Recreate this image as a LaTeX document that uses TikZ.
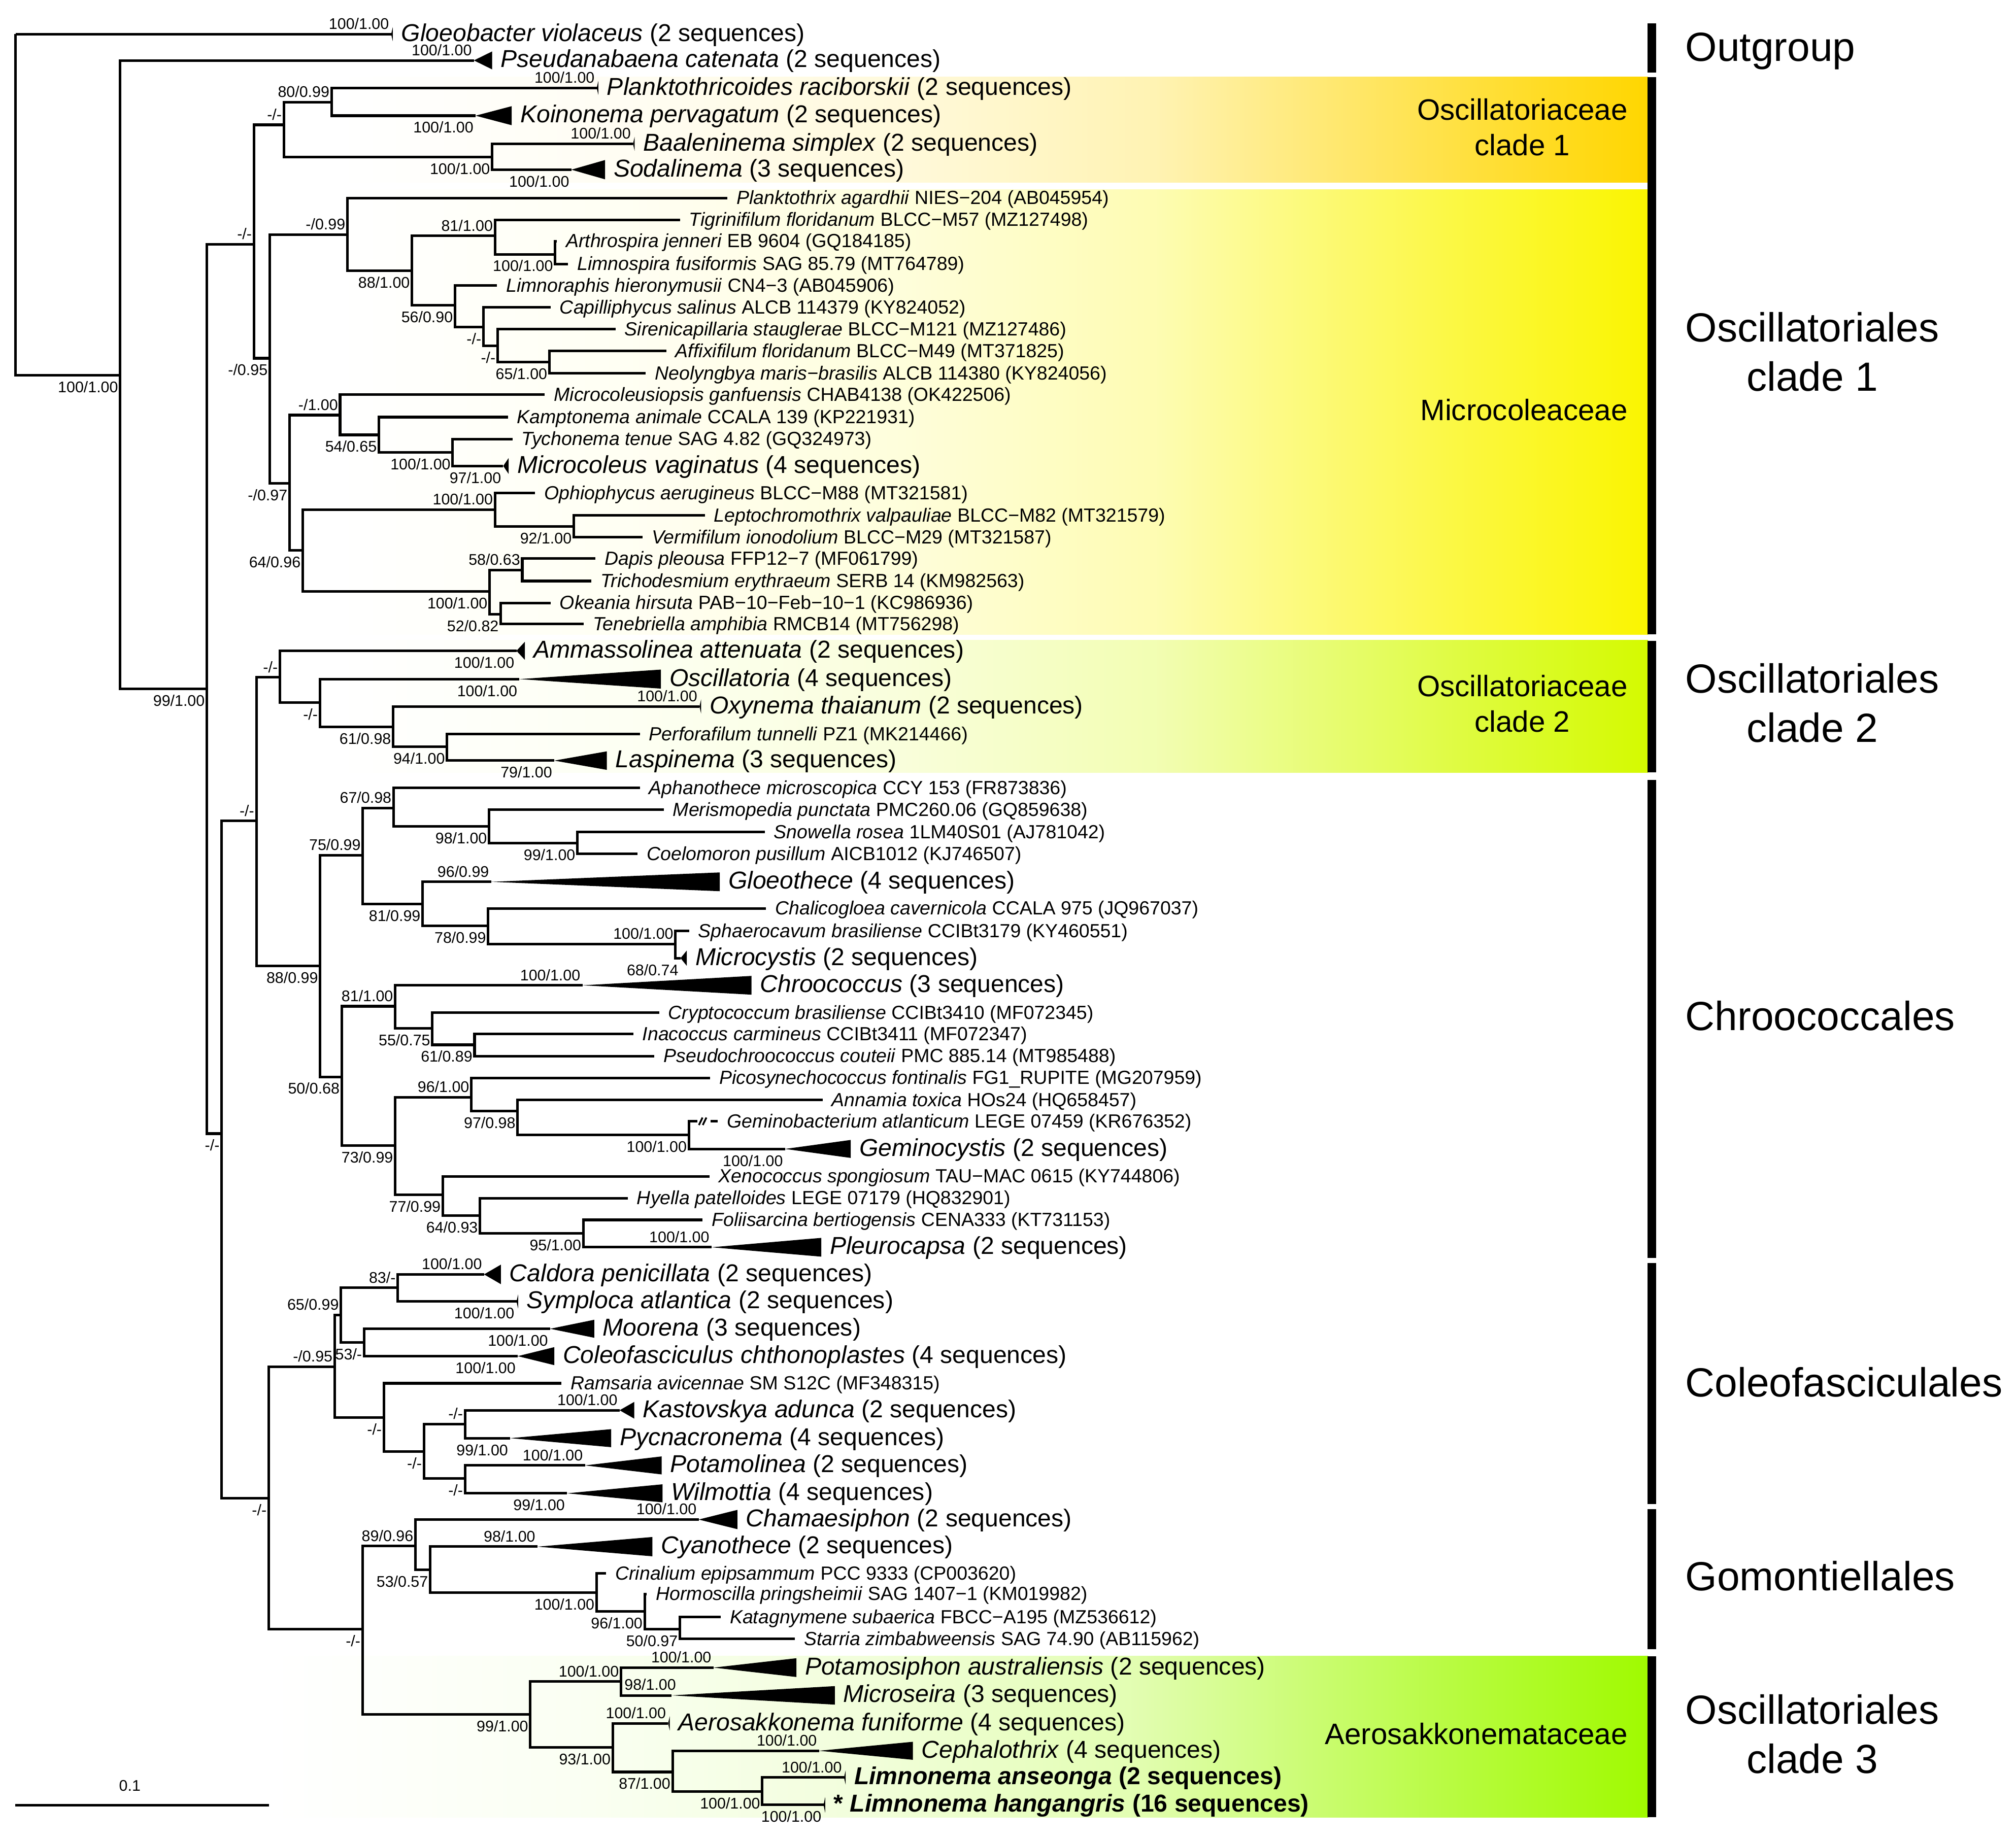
\documentclass[tikz,border=0pt]{standalone}
\usepackage{fontspec}
\setmainfont{Liberation Sans}
\definecolor{ocgold}{RGB}{255,214,0}
\definecolor{mcyellow}{RGB}{250,245,0}
\definecolor{oclime}{RGB}{212,250,0}
\definecolor{aegreen}{RGB}{160,250,0}
\pgfdeclarehorizontalshading{shgold}{100bp}{color(0bp)=(white); color(25bp)=(white); color(36.5bp)=(ocgold!5!white); color(46.5bp)=(ocgold!14!white); color(56.25bp)=(ocgold!30!white); color(68.5bp)=(ocgold!77!white); color(75bp)=(ocgold); color(100bp)=(ocgold)}
\pgfdeclarehorizontalshading{shyellow}{100bp}{color(0bp)=(white); color(25bp)=(white); color(36.5bp)=(mcyellow!5!white); color(46.5bp)=(mcyellow!14!white); color(56.25bp)=(mcyellow!30!white); color(68.5bp)=(mcyellow!77!white); color(75bp)=(mcyellow); color(100bp)=(mcyellow)}
\pgfdeclarehorizontalshading{shlime}{100bp}{color(0bp)=(white); color(25bp)=(white); color(36.5bp)=(oclime!5!white); color(46.5bp)=(oclime!14!white); color(56.25bp)=(oclime!30!white); color(68.5bp)=(oclime!77!white); color(75bp)=(oclime); color(100bp)=(oclime)}
\pgfdeclarehorizontalshading{shgreen}{100bp}{color(0bp)=(white); color(25bp)=(white); color(36.5bp)=(aegreen!5!white); color(46.5bp)=(aegreen!14!white); color(56.25bp)=(aegreen!30!white); color(68.5bp)=(aegreen!77!white); color(75bp)=(aegreen); color(100bp)=(aegreen)}
\begin{document}
\begin{tikzpicture}[x=1pt,y=-1pt,
  br/.style={line width=2pt},
  lbig/.style={anchor=base west,inner sep=0pt,yshift=-5.5pt,font=\fontsize{19}{21}\selectfont},
  lsm/.style={anchor=base west,inner sep=0pt,yshift=-5pt,font=\fontsize{14.8}{17}\selectfont},
  sup/.style={inner sep=0pt,font=\fontsize{12}{14}\selectfont},
  supa/.style={sup,anchor=south east,xshift=-1.5pt,yshift=3.5pt},
  supb/.style={sup,anchor=north east,xshift=-1.5pt,yshift=-4.5pt},
  fam/.style={inner sep=0pt,align=center,font=\fontsize{23}{27.8}\selectfont},
  ord/.style={inner sep=0pt,align=center,font=\fontsize{31.7}{38.3}\selectfont}]
\useasboundingbox (0,0) rectangle (1568,1432);
%Family boxes
  \shade[shading=shgold] (262,59.9) rectangle (1281.8,141.9);
  \shade[shading=shyellow] (262,147.4) rectangle (1281.8,493.5);
  \shade[shading=shlime] (262,498.1) rectangle (1281.8,601.1);
  \shade[shading=shgreen] (210,1288.3) rectangle (1281.8,1413.7);
%Order bars
\foreach \ya/\yb in {18.1/56.5, 60.2/493.5, 498.7/601, 606.9/978.5, 982.5/1170, 1174/1283.1, 1288.3/1413.7} {
        \fill (1281.5,\ya) rectangle (1288.1,\yb);
    }
%Internal nodes
  \coordinate (root) at (12.1,26.6);
  \coordinate (nB) at (93.5,292);
  \coordinate (nC) at (160.9,536);
  \coordinate (nD) at (197.5,189.9);
  \coordinate (nP1) at (220.8,97.1);
  \coordinate (nP2) at (257.9,79.5);
  \coordinate (nP3) at (382.8,122.1);
  \coordinate (nF) at (209.8,278.7);
  \coordinate (nG) at (270.2,182.4);
  \coordinate (nH) at (320.4,210.7);
  \coordinate (nI) at (385,183.5);
  \coordinate (nJ) at (431.8,197.8);
  \coordinate (nK) at (353.9,237.5);
  \coordinate (nL) at (376,254.4);
  \coordinate (nM) at (387.1,269);
  \coordinate (nN) at (427.3,281.6);
  \coordinate (nO) at (225.2,376.1);
  \coordinate (nPn) at (264.5,322.9);
  \coordinate (nQ) at (294.7,338.3);
  \coordinate (nR) at (352.1,351.9);
  \coordinate (nS) at (235.5,428.2);
  \coordinate (nT) at (385,396.5);
  \coordinate (nU) at (446.3,409.4);
  \coordinate (nV) at (380.8,460);
  \coordinate (nW) at (406.2,443.4);
  \coordinate (nX) at (389.5,478);
  \coordinate (nE) at (172.4,881.9);
  \coordinate (nZ) at (199.4,638.7);
  \coordinate (nAA) at (217.7,526.9);
  \coordinate (nAB) at (248.8,546.6);
  \coordinate (nAC) at (305.8,565.6);
  \coordinate (nAD) at (347.7,580.9);
  \coordinate (nAE) at (249,751.4);
  \coordinate (nAF) at (282.2,665.4);
  \coordinate (nAG) at (306.1,628.6);
  \coordinate (nAH) at (380.4,642.7);
  \coordinate (nAI) at (449.1,655.8);
  \coordinate (nAJ) at (328.7,703.1);
  \coordinate (nAK) at (379.7,720.2);
  \coordinate (nAL) at (525.4,734.3);
  \coordinate (nAM) at (265.8,837.7);
  \coordinate (nAN) at (307.4,782.8);
  \coordinate (nAO) at (336.3,800);
  \coordinate (nAP) at (369.1,812.8);
  \coordinate (nAQ) at (307.4,891.2);
  \coordinate (nAR) at (366.6,853.6);
  \coordinate (nAS) at (402.6,864.2);
  \coordinate (nAT) at (535.8,883);
  \coordinate (nAU) at (344.4,929.4);
  \coordinate (nAV) at (373.3,945.7);
  \coordinate (nAW) at (453.7,959.6);
  \coordinate (nAX) at (209,1165.4);
  \coordinate (nAY) at (260.3,1063.1);
  \coordinate (nAZ) at (265.2,1022.9);
  \coordinate (nBA) at (309.4,1001.8);
  \coordinate (nBB) at (283.2,1044.2);
  \coordinate (nBC) at (298.6,1102.8);
  \coordinate (nBD) at (329.7,1129.2);
  \coordinate (nBE) at (361.7,1107.9);
  \coordinate (nBF) at (361.7,1150.3);
  \coordinate (nBG) at (282,1267.3);
  \coordinate (nBH) at (323.1,1202.8);
  \coordinate (nBI) at (334.6,1221.1);
  \coordinate (nBJ) at (464,1239);
  \coordinate (nBK) at (501.4,1253.5);
  \coordinate (nBL) at (528.8,1267.3);
  \coordinate (nBM) at (412.5,1333.7);
  \coordinate (nBN) at (483,1308.1);
  \coordinate (nBO) at (476.6,1359.4);
  \coordinate (nBP) at (523.1,1378.5);
  \coordinate (nBQ) at (592.9,1393.6);
%Tips
\foreach \t/\x/\y in {t01/304.2/26.6, t02/368.6/47, t03/464.1/68.4, t04/369.9/90, t05/492.3/111.9, t06/444.4/132,
    t07/565.7/154, t08/528.8/171, t09/433/187.6, t10/441.8/205.3, t11/386.5/222, t12/428.2/239, t13/478.7/256,
    t14/518.2/273, t15/502.2/290.5, t16/423.7/307, t17/395/324.5, t18/398.6/341.5, t19/391.4/362.5, t20/416.1/383.6,
    t21/548.2/401, t22/499.8/418, t23/463/434.6, t24/460/452, t25/428.2/469, t26/453.9/485.4,
    t27/401.7/506.3, t28/404/528.3, t29/544/549.6, t30/497.6/571.2, t31/431.1/591.7,
    t32/497.6/612.9, t33/516.2/630, t34/594.8/647.3, t35/496/664.2, t36/382/686, t37/595.8/706.7, t38/535.9/724.3,
    t39/529.3/745.4, t40/453/766.5, t41/512.6/787.7, t42/492.5/804.4, t43/509/821.6, t44/552.4/838.5, t45/639.8/855.7,
    gb1/542.2/872.3, gb2/552.7/872.3, t46/558.3/872.3, t47/610.6/893.8, t48/551.7/915.1, t49/488.2/932.1, t50/546.4/949, t51/553.4/970.3,
    t52/376.5/991.4, t53/401.7/1012.5, t54/427.9/1033.7, t55/402.7/1055, t56/436.7/1076.1, t57/481.9/1097.1,
    t58/396.8/1118.8, t59/455/1140, t60/441/1161.7,
    t61/543.4/1182.1, t62/418/1203.2, t63/471.4/1224, t64/503/1240, t65/560.5/1258, t66/618.3/1275,
    t67/554.9/1297.3, t68/522.4/1318.9, t69/519.6/1340.7, t70/637/1362, t71/656.4/1382.8, t72/640.5/1404.1} {
        \coordinate (\t) at (\x,\y);
    }
%Branches
\foreach \p/\c in {root/t01, root/nB, nB/t02, nB/nC, nC/nD, nC/nE, nD/nP1, nD/nF,
    nP1/nP2, nP1/nP3, nP2/t03, nP2/t04, nP3/t05, nP3/t06,
    nF/nG, nF/nO, nG/t07, nG/nH, nH/nI, nH/nK, nI/t08, nI/nJ, nJ/t09, nJ/t10,
    nK/t11, nK/nL, nL/t12, nL/nM, nM/t13, nM/nN, nN/t14, nN/t15,
    nO/nPn, nO/nS, nPn/t16, nPn/nQ, nQ/t17, nQ/nR, nR/t18, nR/t19,
    nS/nT, nS/nV, nT/t20, nT/nU, nU/t21, nU/t22, nV/nW, nV/nX, nW/t23, nW/t24, nX/t25, nX/t26,
    nE/nZ, nE/nAX, nZ/nAA, nZ/nAE, nAA/t27, nAA/nAB, nAB/t28, nAB/nAC, nAC/t29, nAC/nAD, nAD/t30, nAD/t31,
    nAE/nAF, nAE/nAM, nAF/nAG, nAF/nAJ, nAG/t32, nAG/nAH, nAH/t33, nAH/nAI, nAI/t34, nAI/t35,
    nAJ/t36, nAJ/nAK, nAK/t37, nAK/nAL, nAL/t38, nAL/t39,
    nAM/nAN, nAM/nAQ, nAN/t40, nAN/nAO, nAO/t41, nAO/nAP, nAP/t42, nAP/t43,
    nAQ/nAR, nAQ/nAU, nAR/t44, nAR/nAS, nAS/t45, nAS/nAT, nAT/gb1, nAT/t47,
    nAU/t48, nAU/nAV, nAV/t49, nAV/nAW, nAW/t50, nAW/t51,
    nAX/nAY, nAX/nBG, nAY/nAZ, nAY/nBC, nAZ/nBA, nAZ/nBB, nBA/t52, nBA/t53, nBB/t54, nBB/t55,
    nBC/t56, nBC/nBD, nBD/nBE, nBD/nBF, nBE/t57, nBE/t58, nBF/t59, nBF/t60,
    nBG/nBH, nBG/nBM, nBH/t61, nBH/nBI, nBI/t62, nBI/nBJ, nBJ/t63, nBJ/nBK, nBK/t64, nBK/nBL, nBL/t65, nBL/t66,
    nBM/nBN, nBM/nBO, nBN/t67, nBN/t68, nBO/t69, nBO/nBP, nBP/t70, nBP/nBQ, nBQ/t71, nBQ/t72} {
        \draw[br] (\p) |- (\c);
    }
  %broken branch
  \draw[br] (gb2) -- (t46);
  \draw[line width=1.4pt] (543.6,875.2) -- (546.4,869.4);
  \draw[line width=1.4pt] (546.6,875.2) -- (549.4,869.4);
%Collapsed clades
\foreach \t/\w/\h in {t01/1.3/5.5, t02/14.2/7, t03/1.3/5.5, t04/28.1/7.4, t05/1.3/5.5, t06/26.2/7.5,
    t19/4.2/6.2, t27/6.5/7, t28/110/7.4, t29/1.3/5.5, t31/40.9/7.2, t36/177.8/7.3, t39/4.9/6,
    t40/131.5/7.3, t47/51.1/7, t51/85.4/7.3, t52/13.1/7.6, t53/1.3/5.5, t54/34.3/7, t55/28.4/7,
    t57/11.4/6.5, t58/78.5/7, t59/59.6/7, t60/74.3/7, t61/30.1/7.5, t62/89.4/7.5,
    t67/64.5/7.3, t68/126.9/7.2, t69/1.3/5.5, t70/73/7, t71/1.3/5.5, t72/1.3/6} {
        \fill (\t) -- ++(\w,-\h) -- ++(0,2*\h) -- cycle;
        \coordinate (e\t) at ([xshift=\w pt]\t);
    }
%Support values
\foreach \c/\a/\b in {t01/100/1.00, t02/100/1.00, t03/100/1.00, nP2/80/0.99, nP1/-/-, t05/100/1.00, nD/-/-,
    nG/-/0.99, nI/81/1.00, nPn/-/1.00, nT/100/1.00, nW/58/0.63, nAA/-/-, nZ/-/-, t29/100/1.00,
    nAF/75/0.99, nAG/67/0.98, t36/96/0.99, nAL/100/1.00, nAN/81/1.00, t40/100/1.00, nAR/96/1.00, t51/100/1.00,
    nAY/-/0.95, nAZ/65/0.99, nBA/83/-, t52/100/1.00, nBE/-/-, t57/100/1.00, t59/100/1.00,
    nBH/89/0.96, t61/100/1.00, t62/98/1.00, nBN/100/1.00, t67/100/1.00, t69/100/1.00, t70/100/1.00, t71/100/1.00} {
        \node[supa] (sa\c) at (\c) {\a/\b};
    }
\foreach \c/\a/\b in {nB/100/1.00, nC/99/1.00, t04/100/1.00, nP3/100/1.00, t06/100/1.00, nF/-/0.95, nH/88/1.00,
    nJ/100/1.00, nK/56/0.90, nL/-/-, nM/-/-, nN/65/1.00, nO/-/0.97, nQ/54/0.65, nR/100/1.00, t19/97/1.00,
    nS/64/0.96, nU/92/1.00, nV/100/1.00, nX/52/0.82, nE/-/-, t27/100/1.00, nAB/-/-, t28/100/1.00,
    nAC/61/0.98, nAD/94/1.00, t31/79/1.00, nAE/88/0.99, nAH/98/1.00, nAI/99/1.00, nAJ/81/0.99, nAK/78/0.99,
    t39/68/0.74, nAM/50/0.68, nAO/55/0.75, nAP/61/0.89, nAQ/73/0.99, nAS/97/0.98, nAT/100/1.00, t47/100/1.00,
    nAU/77/0.99, nAV/64/0.93, nAW/95/1.00, nAX/-/-, nBB/53/-, t53/100/1.00, t54/100/1.00, t55/100/1.00,
    nBC/-/-, nBD/-/-, t58/99/1.00, nBF/-/-, t60/99/1.00, nBG/-/-, nBI/53/0.57, nBJ/100/1.00, nBK/96/1.00,
    nBL/50/0.97, nBM/99/1.00, nBO/93/1.00, nBP/87/1.00, nBQ/100/1.00, t72/100/1.00} {
        \node[supb] (sb\c) at (\c) {\a/\b};
    }
  \node[sup,anchor=south west] (sat68) at (485.5,1315) {98/1.00};
%Taxa
  \node[lbig] (g01) at ([xshift=6.5pt]et01) {\textit{Gloeobacter violaceus} (2 sequences)};
  \node[lbig] (g02) at ([xshift=6.5pt]et02) {\textit{Pseudanabaena catenata} (2 sequences)};
  \node[lbig] (g03) at ([xshift=6.5pt]et03) {\textit{Planktothricoides raciborskii} (2 sequences)};
  \node[lbig] (g04) at ([xshift=6.5pt]et04) {\textit{Koinonema pervagatum} (2 sequences)};
  \node[lbig] (g05) at ([xshift=6.5pt]et05) {\textit{Baaleninema simplex} (2 sequences)};
  \node[lbig] (g06) at ([xshift=6.5pt]et06) {\textit{Sodalinema} (3 sequences)};
  \node[lsm] (g07) at ([xshift=7pt]t07) {\textit{Planktothrix agardhii} NIES−204 (AB045954)};
  \node[lsm] (g08) at ([xshift=7pt]t08) {\textit{Tigrinifilum floridanum} BLCC−M57 (MZ127498)};
  \node[lsm] (g09) at ([xshift=7pt]t09) {\textit{Arthrospira jenneri} EB 9604 (GQ184185)};
  \node[lsm] (g10) at ([xshift=7pt]t10) {\textit{Limnospira fusiformis} SAG 85.79 (MT764789)};
  \node[lsm] (g11) at ([xshift=7pt]t11) {\textit{Limnoraphis hieronymusii} CN4−3 (AB045906)};
  \node[lsm] (g12) at ([xshift=7pt]t12) {\textit{Capilliphycus salinus} ALCB 114379 (KY824052)};
  \node[lsm] (g13) at ([xshift=7pt]t13) {\textit{Sirenicapillaria stauglerae} BLCC−M121 (MZ127486)};
  \node[lsm] (g14) at ([xshift=7pt]t14) {\textit{Affixifilum floridanum} BLCC−M49 (MT371825)};
  \node[lsm] (g15) at ([xshift=7pt]t15) {\textit{Neolyngbya maris−brasilis} ALCB 114380 (KY824056)};
  \node[lsm] (g16) at ([xshift=7pt]t16) {\textit{Microcoleusiopsis ganfuensis} CHAB4138 (OK422506)};
  \node[lsm] (g17) at ([xshift=7pt]t17) {\textit{Kamptonema animale} CCALA 139 (KP221931)};
  \node[lsm] (g18) at ([xshift=7pt]t18) {\textit{Tychonema tenue} SAG 4.82 (GQ324973)};
  \node[lbig] (g19) at ([xshift=6.5pt]et19) {\textit{Microcoleus vaginatus} (4 sequences)};
  \node[lsm] (g20) at ([xshift=7pt]t20) {\textit{Ophiophycus aerugineus} BLCC−M88 (MT321581)};
  \node[lsm] (g21) at ([xshift=7pt]t21) {\textit{Leptochromothrix valpauliae} BLCC−M82 (MT321579)};
  \node[lsm] (g22) at ([xshift=7pt]t22) {\textit{Vermifilum ionodolium} BLCC−M29 (MT321587)};
  \node[lsm] (g23) at ([xshift=7pt]t23) {\textit{Dapis pleousa} FFP12−7 (MF061799)};
  \node[lsm] (g24) at ([xshift=7pt]t24) {\textit{Trichodesmium erythraeum} SERB 14 (KM982563)};
  \node[lsm] (g25) at ([xshift=7pt]t25) {\textit{Okeania hirsuta} PAB−10−Feb−10−1 (KC986936)};
  \node[lsm] (g26) at ([xshift=7pt]t26) {\textit{Tenebriella amphibia} RMCB14 (MT756298)};
  \node[lbig] (g27) at ([xshift=6.5pt]et27) {\textit{Ammassolinea attenuata} (2 sequences)};
  \node[lbig] (g28) at ([xshift=6.5pt]et28) {\textit{Oscillatoria} (4 sequences)};
  \node[lbig] (g29) at ([xshift=6.5pt]et29) {\textit{Oxynema thaianum} (2 sequences)};
  \node[lsm] (g30) at ([xshift=7pt]t30) {\textit{Perforafilum tunnelli} PZ1 (MK214466)};
  \node[lbig] (g31) at ([xshift=6.5pt]et31) {\textit{Laspinema} (3 sequences)};
  \node[lsm] (g32) at ([xshift=7pt]t32) {\textit{Aphanothece microscopica} CCY 153 (FR873836)};
  \node[lsm] (g33) at ([xshift=7pt]t33) {\textit{Merismopedia punctata} PMC260.06 (GQ859638)};
  \node[lsm] (g34) at ([xshift=7pt]t34) {\textit{Snowella rosea} 1LM40S01 (AJ781042)};
  \node[lsm] (g35) at ([xshift=7pt]t35) {\textit{Coelomoron pusillum} AICB1012 (KJ746507)};
  \node[lbig] (g36) at ([xshift=6.5pt]et36) {\textit{Gloeothece} (4 sequences)};
  \node[lsm] (g37) at ([xshift=7pt]t37) {\textit{Chalicogloea cavernicola} CCALA 975 (JQ967037)};
  \node[lsm] (g38) at ([xshift=7pt]t38) {\textit{Sphaerocavum brasiliense} CCIBt3179 (KY460551)};
  \node[lbig] (g39) at ([xshift=6.5pt]et39) {\textit{Microcystis} (2 sequences)};
  \node[lbig] (g40) at ([xshift=6.5pt]et40) {\textit{Chroococcus} (3 sequences)};
  \node[lsm] (g41) at ([xshift=7pt]t41) {\textit{Cryptococcum brasiliense} CCIBt3410 (MF072345)};
  \node[lsm] (g42) at ([xshift=7pt]t42) {\textit{Inacoccus carmineus} CCIBt3411 (MF072347)};
  \node[lsm] (g43) at ([xshift=7pt]t43) {\textit{Pseudochroococcus couteii} PMC 885.14 (MT985488)};
  \node[lsm] (g44) at ([xshift=7pt]t44) {\textit{Picosynechococcus fontinalis} FG1\_RUPITE (MG207959)};
  \node[lsm] (g45) at ([xshift=7pt]t45) {\textit{Annamia toxica} HOs24 (HQ658457)};
  \node[lsm] (g46) at ([xshift=7pt]t46) {\textit{Geminobacterium atlanticum} LEGE 07459 (KR676352)};
  \node[lbig] (g47) at ([xshift=6.5pt]et47) {\textit{Geminocystis} (2 sequences)};
  \node[lsm] (g48) at ([xshift=7pt]t48) {\textit{Xenococcus spongiosum} TAU−MAC 0615 (KY744806)};
  \node[lsm] (g49) at ([xshift=7pt]t49) {\textit{Hyella patelloides} LEGE 07179 (HQ832901)};
  \node[lsm] (g50) at ([xshift=7pt]t50) {\textit{Foliisarcina bertiogensis} CENA333 (KT731153)};
  \node[lbig] (g51) at ([xshift=6.5pt]et51) {\textit{Pleurocapsa} (2 sequences)};
  \node[lbig] (g52) at ([xshift=6.5pt]et52) {\textit{Caldora penicillata} (2 sequences)};
  \node[lbig] (g53) at ([xshift=6.5pt]et53) {\textit{Symploca atlantica} (2 sequences)};
  \node[lbig] (g54) at ([xshift=6.5pt]et54) {\textit{Moorena} (3 sequences)};
  \node[lbig] (g55) at ([xshift=6.5pt]et55) {\textit{Coleofasciculus chthonoplastes} (4 sequences)};
  \node[lsm] (g56) at ([xshift=7pt]t56) {\textit{Ramsaria avicennae} SM S12C (MF348315)};
  \node[lbig] (g57) at ([xshift=6.5pt]et57) {\textit{Kastovskya adunca} (2 sequences)};
  \node[lbig] (g58) at ([xshift=6.5pt]et58) {\textit{Pycnacronema} (4 sequences)};
  \node[lbig] (g59) at ([xshift=6.5pt]et59) {\textit{Potamolinea} (2 sequences)};
  \node[lbig] (g60) at ([xshift=6.5pt]et60) {\textit{Wilmottia} (4 sequences)};
  \node[lbig] (g61) at ([xshift=6.5pt]et61) {\textit{Chamaesiphon} (2 sequences)};
  \node[lbig] (g62) at ([xshift=6.5pt]et62) {\textit{Cyanothece} (2 sequences)};
  \node[lsm] (g63) at ([xshift=7pt]t63) {\textit{Crinalium epipsammum} PCC 9333 (CP003620)};
  \node[lsm] (g64) at ([xshift=7pt]t64) {\textit{Hormoscilla pringsheimii} SAG 1407−1 (KM019982)};
  \node[lsm] (g65) at ([xshift=7pt]t65) {\textit{Katagnymene subaerica} FBCC−A195 (MZ536612)};
  \node[lsm] (g66) at ([xshift=7pt]t66) {\textit{Starria zimbabweensis} SAG 74.90 (AB115962)};
  \node[lbig] (g67) at ([xshift=6.5pt]et67) {\textit{Potamosiphon australiensis} (2 sequences)};
  \node[lbig] (g68) at ([xshift=6.5pt]et68) {\textit{Microseira} (3 sequences)};
  \node[lbig] (g69) at ([xshift=6.5pt]et69) {\textit{Aerosakkonema funiforme} (4 sequences)};
  \node[lbig] (g70) at ([xshift=6.5pt]et70) {\textit{Cephalothrix} (4 sequences)};
  \node[lbig] (g71) at ([xshift=6.5pt]et71) {\textbf{\textit{Limnonema anseonga} (2 sequences)}};
  \node[lbig] (g72) at ([xshift=6.5pt]et72) {\textbf{* \textit{Limnonema hangangris} (16 sequences)}};
%Scale bar
  \coordinate (sb1) at (12,1404.4);
  \coordinate (sb2) at (209.4,1404.4);
  \draw[br] (sb1) -- (sb2);
  \node[sup] (sbl) at (101,1389) {0.1};
%Family labels
  \node[fam,anchor=east] (f1) at (1266,98.9) {Oscillatoriaceae\\clade 1};
  \node[fam,anchor=base east] (f2) at (1266,327) {Microcoleaceae};
  \node[fam,anchor=east] (f3) at (1266,547.3) {Oscillatoriaceae\\clade 2};
  \node[fam,anchor=base east] (f4) at (1266,1357) {Aerosakkonemataceae};
%Order labels
  \node[ord,anchor=base west] (o1) at (1310.7,47.5) {Outgroup};
  \node[ord,anchor=west] (o2) at (1310.7,273.5) {Oscillatoriales\\clade 1};
  \node[ord,anchor=west] (o3) at (1310.7,547) {Oscillatoriales\\clade 2};
  \node[ord,anchor=base west] (o4) at (1310.7,801.4) {Chroococcales};
  \node[ord,anchor=base west] (o5) at (1310.7,1086.4) {Coleofasciculales};
  \node[ord,anchor=base west] (o6) at (1310.7,1237.4) {Gomontiellales};
  \node[ord,anchor=west] (o7) at (1310.7,1349) {Oscillatoriales\\clade 3};
\end{tikzpicture}
\end{document}
